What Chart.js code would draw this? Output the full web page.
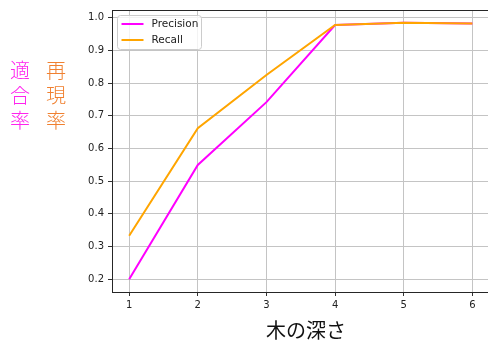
<!DOCTYPE html>
<html>
<head>
<meta charset="utf-8">
<script src="https://cdn.jsdelivr.net/npm/chart.js@4/dist/chart.umd.min.js"></script>
<style>
html,body{margin:0;padding:0;background:#fff;overflow:hidden;width:488px;height:343px;}
canvas{position:absolute;left:0;top:0;}
</style>
</head>
<body>
<canvas id="c" width="500" height="343"></canvas>
<script>
// ---- data ----
const depths = [1, 2, 3, 4, 5, 6];
const precision = [0.200, 0.550, 0.742, 0.978, 0.985, 0.983];
const recall = [0.333, 0.662, 0.825, 0.978, 0.985, 0.983];
const xTicks = [1, 2, 3, 4, 5, 6];
const yTicks = [0.2, 0.3, 0.4, 0.5, 0.6, 0.7, 0.8, 0.9, 1.0];
const seriesNames = ['Precision', 'Recall'];
const seriesColors = ['#ff00ff', '#ffa500'];
const xTitle = '木の深さ';
const yTitles = ['適合率', '再現率'];
const yTitleColors = ['#ff22ee', '#f08030'];

const tickFont = {family: 'DejaVu Sans', size: 10};

const decor = {
  id: 'decor',
  afterDatasetsDraw(chart) {
    const {ctx, chartArea: a} = chart;
    ctx.save();
    // frame
    ctx.strokeStyle = '#262626';
    ctx.lineWidth = 1;
    ctx.strokeRect(Math.round(a.left) + 0.5, Math.round(a.top) + 0.5, Math.round(a.right - a.left), Math.round(a.bottom - a.top));
    // legend
    const lx = 117.5, ly = 15.5, lw = 84, lh = 34, r = 3;
    ctx.beginPath();
    ctx.moveTo(lx + r, ly);
    ctx.arcTo(lx + lw, ly, lx + lw, ly + lh, r);
    ctx.arcTo(lx + lw, ly + lh, lx, ly + lh, r);
    ctx.arcTo(lx, ly + lh, lx, ly, r);
    ctx.arcTo(lx, ly, lx + lw, ly, r);
    ctx.closePath();
    ctx.fillStyle = 'rgba(255,255,255,0.8)';
    ctx.fill();
    ctx.strokeStyle = '#cccccc';
    ctx.stroke();
    ctx.font = '10.5px "DejaVu Sans"';
    ctx.textBaseline = 'middle';
    ctx.textAlign = 'left';
    seriesNames.forEach((n, i) => {
      const y = 24 + i * 16;
      ctx.strokeStyle = seriesColors[i];
      ctx.lineWidth = 2;
      ctx.beginPath();
      ctx.moveTo(121.5, y);
      ctx.lineTo(143.5, y);
      ctx.stroke();
      ctx.fillStyle = '#222';
      ctx.fillText(n, 151.5, y + 0.5);
    });
    ctx.restore();
  },
  afterDraw(chart) {
    const ctx = chart.ctx;
    ctx.save();
    ctx.textAlign = 'center';
    ctx.textBaseline = 'middle';
    ctx.font = '20px "Noto Sans CJK JP"';
    ctx.fillStyle = '#111';
    ctx.fillText(xTitle, 306, 330);
    ctx.font = '300 20px "Noto Sans CJK JP"';
    yTitles.forEach((t, i) => {
      ctx.fillStyle = yTitleColors[i];
      const x = 20 + i * 36;
      [...t].forEach((ch, j) => ctx.fillText(ch, x, 70 + j * 25));
    });
    ctx.restore();
  }
};

new Chart(document.getElementById('c'), {
  type: 'line',
  data: {
    datasets: [
      {label: seriesNames[0], data: depths.map((d, i) => ({x: d, y: precision[i]})), borderColor: seriesColors[0], borderWidth: 2, pointRadius: 0, tension: 0, fill: false, order: 1},
      {label: seriesNames[1], data: depths.map((d, i) => ({x: d, y: recall[i]})), borderColor: seriesColors[1], borderWidth: 2, pointRadius: 0, tension: 0, fill: false, order: 0}
    ]
  },
  options: {
    responsive: false,
    animation: false,
    events: [],
    layout: {padding: {left: 0, top: 10, right: 10.5, bottom: 0}},
    plugins: {legend: {display: false}, tooltip: {enabled: false}},
    scales: {
      x: {
        type: 'linear', min: 0.75, max: 6.25,
        afterBuildTicks: s => { s.ticks = xTicks.map(v => ({value: v})); },
        afterFit: s => { s.height = 51; },
        grid: {color: '#c4c4c4', lineWidth: 1, tickColor: '#333', tickLength: 4, drawTicks: true},
        border: {display: false},
        ticks: {font: tickFont, color: '#222', padding: 3, maxRotation: 0, callback: v => String(v)}
      },
      y: {
        type: 'linear', min: 0.161, max: 1.024,
        afterBuildTicks: s => { s.ticks = yTicks.map(v => ({value: v})); },
        afterFit: s => { s.width = 112; },
        grid: {color: '#c4c4c4', lineWidth: 1, tickColor: '#333', tickLength: 4, drawTicks: true},
        border: {display: false},
        ticks: {font: tickFont, color: '#222', padding: 4, callback: v => v.toFixed(1)}
      }
    }
  },
  plugins: [decor]
});
</script>
</body>
</html>
